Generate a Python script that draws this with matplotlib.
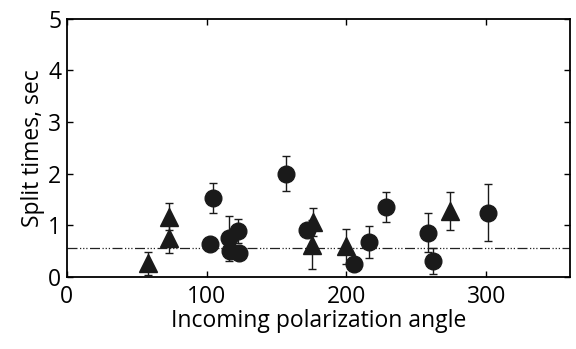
import matplotlib
matplotlib.use('Agg')
import matplotlib.pyplot as plt

# circles
circ_x = [102.4, 104.7, 116, 116.7, 122.6, 123.3, 157, 171.5, 205.6, 216.4, 227.9, 258.6, 261.7, 300.9]
circ_y = [0.64, 1.54, 0.75, 0.51, 0.89, 0.47, 2.0, 0.91, 0.26, 0.68, 1.36, 0.86, 0.31, 1.25]
circ_err = [0, 0.29, 0.43, 0, 0.23, 0, 0.34, 0, 0, 0.31, 0.29, 0.38, 0.25, 0.55]

# triangles
tri_x = [58, 73, 73, 175.8, 175, 200, 274]
tri_y = [0.27, 1.17, 0.75, 1.07, 0.63, 0.6, 1.28]
tri_err = [0.22, 0.26, 0.29, 0.27, 0.48, 0.34, 0.37]

mean_split = 0.57

plt.rcParams['font.family'] = ['Open Sans', 'DejaVu Sans']

fig = plt.figure(figsize=(5.76, 3.49), dpi=100)
ax = fig.add_axes([0.116, 0.206, 0.874, 0.74])

ax.axhline(mean_split, color='#222222', lw=0.9, dashes=(8, 2, 1, 1.5, 1, 1.5, 1, 2), zorder=1)

ax.errorbar(circ_x, circ_y, yerr=circ_err, fmt='o', color='#1a1a1a', ms=12,
            elinewidth=1, capsize=3, capthick=1, zorder=3)
ax.errorbar(tri_x, tri_y, yerr=tri_err, fmt='^', color='#1a1a1a', ms=13,
            elinewidth=1, capsize=3, capthick=1, zorder=3)

ax.set_xlim(0, 360)
ax.set_ylim(0, 5)
ax.set_xticks([0, 100, 200, 300])
ax.set_yticks([0, 1, 2, 3, 4, 5])
ax.tick_params(direction='in', length=4, width=1, labelsize=16.5, right=True, top=True,
               pad=4)
ax.tick_params(axis='x', pad=6)
for s in ax.spines.values():
    s.set_linewidth(1.3)
ax.set_xlabel('Incoming polarization angle', fontsize=16.5, labelpad=0)
ax.set_ylabel('Split times, sec', fontsize=16.5, labelpad=2)

fig.savefig('out.png', dpi=100)
